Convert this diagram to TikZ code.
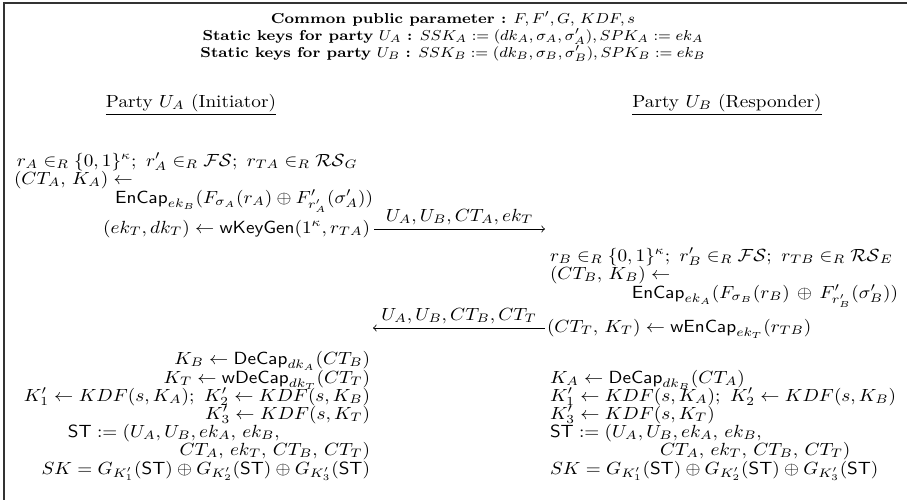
\documentclass[tikz,border=0pt]{standalone}
\usepackage{graphicx}
\usepackage{amsmath,amssymb}
\newcommand{\bt}[1]{\scalebox{0.96}[0.88]{#1}}
\newcommand{\hdtxt}[1]{\scalebox{0.97}[0.9]{\fontsize{8}{10}\selectfont #1}}
\begin{document}
\begin{tikzpicture}[x=0.5pt,y=-0.5pt,
  txt/.style={inner sep=0pt, outer sep=0pt},
  hdr/.style={inner sep=0pt, outer sep=0pt, anchor=base},
  msg/.style={->, line width=0.4pt},
  lbl/.style={inner sep=0pt, above=2pt}]
\useasboundingbox (0,0) rectangle (907,500);
\draw[line width=0.8pt, black!80] (907,3) -- (4,3) -- (4,500);
% header
\node[hdr] (h1) at (453,23) {\hdtxt{\textbf{Common public parameter :} $F, F', G,\, KDF, s$}};
\node[hdr] (h2) at (453,40) {\hdtxt{\textbf{Static keys for party} $U_A$ \textbf{:} $SSK_A := (dk_A, \sigma_A, \sigma'_A), SPK_A := ek_A$}};
\node[hdr] (h3) at (453,57) {\hdtxt{\textbf{Static keys for party} $U_B$ \textbf{:} $SSK_B := (dk_B, \sigma_B, \sigma'_B), SPK_B := ek_B$}};
\node[txt, anchor=base] (pa) at (191,107) {\bt{\underline{Party $U_A$ (Initiator)}}};
\node[txt, anchor=base] (pb) at (727,107) {\bt{\underline{Party $U_B$ (Responder)}}};
% left top
\node[txt, anchor=base west] (l1) at (17,166) {\bt{$r_A \in_R \{0,1\}^{\kappa};\ r'_A \in_R \mathcal{FS};\ r_{TA} \in_R \mathcal{RS}_G$}};
\node[txt, anchor=base west] (l2) at (14,184) {\bt{$(CT_A,\, K_A) \leftarrow$}};
\node[txt, anchor=base east] (l3) at (373,203) {\bt{$\mathsf{EnCap}_{ek_B}(F_{\sigma_A}(r_A) \oplus F'_{r'_A}(\sigma'_A))$}};
\node[txt, anchor=base east] (l4) at (370,233) {\bt{$(ek_T, dk_T) \leftarrow \mathsf{wKeyGen}(1^\kappa, r_{TA})$}};
\coordinate (m1s) at (374,229);
\coordinate (m1e) at (545,229);
\draw[msg] (m1s) -- node[lbl] (m1l) {\bt{$U_A, U_B, CT_A, ek_T$}} (m1e);
% right top
\node[txt, anchor=base west] (r1) at (550,261) {\bt{$r_B \in_R \{0,1\}^{\kappa};\ r'_B \in_R \mathcal{FS};\ r_{TB} \in_R \mathcal{RS}_E$}};
\node[txt, anchor=base west] (r2) at (550,279) {\bt{$(CT_B,\, K_B) \leftarrow$}};
\node[txt, anchor=base east] (r3) at (898,298) {\bt{$\mathsf{EnCap}_{ek_A}(F_{\sigma_B}(r_B) \,\oplus\, F'_{r'_B}(\sigma'_B))$}};
\node[txt, anchor=base west] (r4) at (547,332) {\bt{$(CT_T,\, K_T) \leftarrow \mathsf{wEnCap}_{ek_T}(r_{TB})$}};
\coordinate (m2s) at (545,328);
\coordinate (m2e) at (373,328);
\draw[msg] (m2s) -- node[lbl] (m2l) {\bt{$U_A, U_B, CT_B, CT_T$}} (m2e);
% left bottom
\node[txt, anchor=base east] (b1) at (370,364) {\bt{$K_B \leftarrow \mathsf{DeCap}_{dk_A}(CT_B)$}};
\node[txt, anchor=base east] (b2) at (370,383) {\bt{$K_T \leftarrow \mathsf{wDeCap}_{dk_T}(CT_T)$}};
\node[txt, anchor=base east] (b3) at (370,401) {\bt{$K'_1 \leftarrow KDF(s, K_A);\ K'_2 \leftarrow KDF(s, K_B)$}};
\node[txt, anchor=base east] (b4) at (370,419) {\bt{$K'_3 \leftarrow KDF(s, K_T)$}};
\node[txt, anchor=base west] (b5) at (68,437) {\bt{$\mathsf{ST} := (U_A, U_B, ek_A,\, ek_B,$}};
\node[txt, anchor=base east] (b6) at (370,455) {\bt{$CT_A,\, ek_T,\, CT_B,\, CT_T)$}};
\node[txt, anchor=base east] (b7) at (370,474) {\bt{$SK = G_{K'_1}(\mathsf{ST}) \oplus G_{K'_2}(\mathsf{ST}) \oplus G_{K'_3}(\mathsf{ST})$}};
% right bottom
\node[txt, anchor=base west] (c1) at (550,383) {\bt{$K_A \leftarrow \mathsf{DeCap}_{dk_B}(CT_A)$}};
\node[txt, anchor=base west] (c2) at (550,401) {\bt{$K'_1 \leftarrow KDF(s, K_A);\ K'_2 \leftarrow KDF(s, K_B)$}};
\node[txt, anchor=base west] (c3) at (550,419) {\bt{$K'_3 \leftarrow KDF(s, K_T)$}};
\node[txt, anchor=base west] (c4) at (550,437) {\bt{$\mathsf{ST} := (U_A, U_B, ek_A,\, ek_B,$}};
\node[txt, anchor=base west] (c5) at (660,455) {\bt{$CT_A,\, ek_T,\, CT_B,\, CT_T)$}};
\node[txt, anchor=base west] (c6) at (550,474) {\bt{$SK = G_{K'_1}(\mathsf{ST}) \oplus G_{K'_2}(\mathsf{ST}) \oplus G_{K'_3}(\mathsf{ST})$}};
\end{tikzpicture}
\end{document}
